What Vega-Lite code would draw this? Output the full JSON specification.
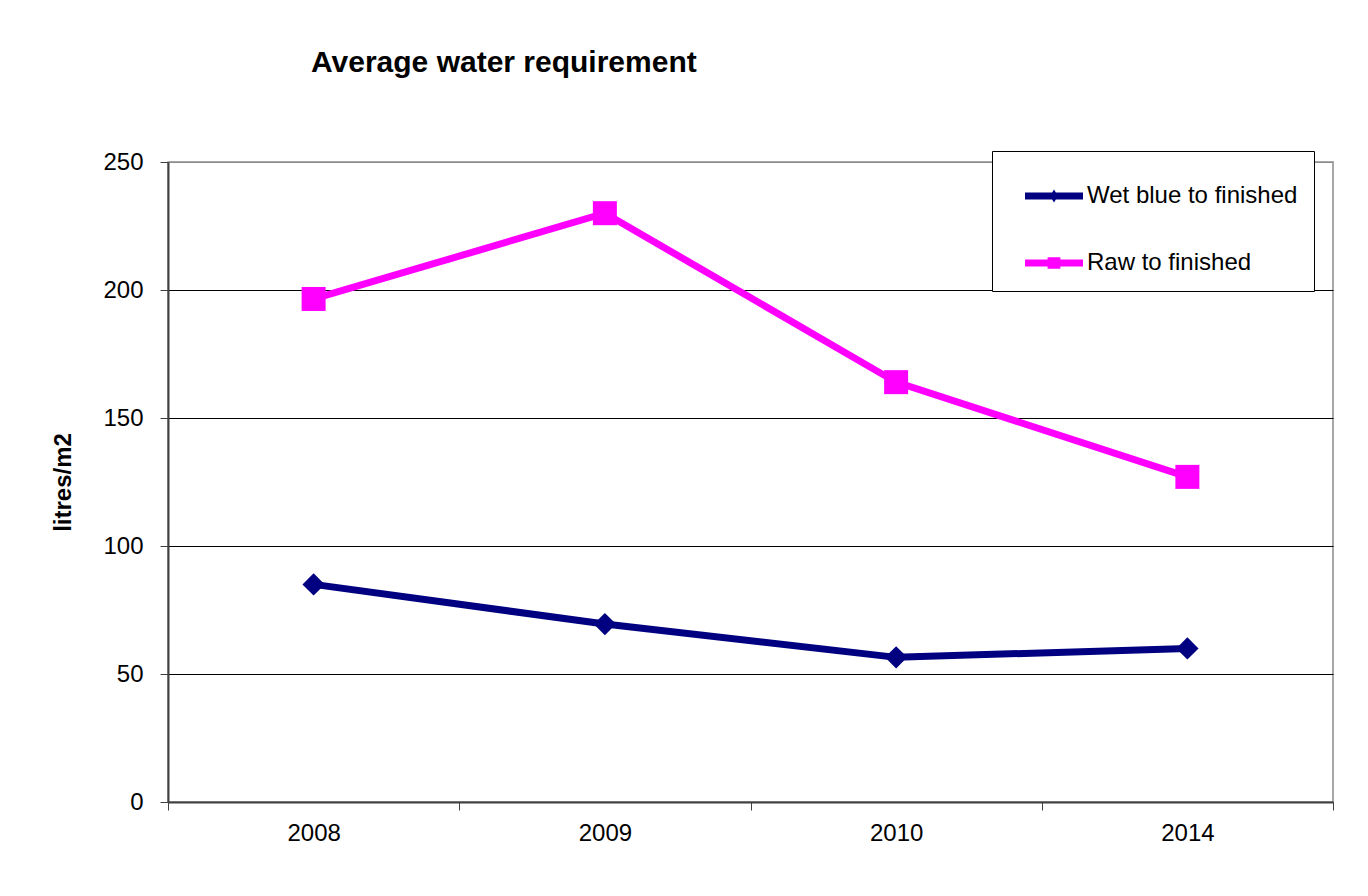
{
  "$schema": "https://vega.github.io/schema/vega-lite/v6.json",
  "autosize": {"type": "none"},
  "padding": {"left": 168, "top": 162, "right": 35, "bottom": 94},
  "width": 1165,
  "height": 640,
  "background": "white",
  "title": {
    "text": "Average water requirement",
    "anchor": "start",
    "frame": "group",
    "dx": 143,
    "offset": 48,
    "baseline": "alphabetic",
    "font": "Liberation Sans",
    "fontSize": 30,
    "fontWeight": "bold",
    "color": "black"
  },
  "config": {
    "font": "Liberation Sans",
    "view": {"stroke": "#8c8c8c", "strokeWidth": 1.5}
  },
  "data": {
    "values": [
      {"year": "2008", "series": "Wet blue to finished", "value": 85},
      {"year": "2009", "series": "Wet blue to finished", "value": 69.5},
      {"year": "2010", "series": "Wet blue to finished", "value": 56.5},
      {"year": "2014", "series": "Wet blue to finished", "value": 60},
      {"year": "2008", "series": "Raw to finished", "value": 196.5},
      {"year": "2009", "series": "Raw to finished", "value": 230},
      {"year": "2010", "series": "Raw to finished", "value": 164},
      {"year": "2014", "series": "Raw to finished", "value": 127}
    ]
  },
  "encoding": {
    "x": {
      "field": "year",
      "type": "ordinal",
      "scale": {"type": "band", "paddingInner": 0, "paddingOuter": 0},
      "axis": {
        "title": null,
        "labelAngle": 0,
        "labelFontSize": 24,
        "labelColor": "black",
        "tickBand": "extent",
        "tickSize": 8,
        "tickColor": "#404040",
        "domainColor": "#404040",
        "domainWidth": 2,
        "labelPadding": 11,
        "grid": false
      }
    },
    "y": {
      "field": "value",
      "type": "quantitative",
      "scale": {"domain": [0, 250]},
      "axis": {
        "values": [0, 50, 100, 150, 200, 250],
        "title": "litres/m2",
        "titleFontSize": 24,
        "titleFontWeight": "bold",
        "titleColor": "black",
        "titleAngle": -90,
        "titleX": -105,
        "titleY": 320,
        "titleAlign": "center",
        "titleBaseline": "middle",
        "labelFontSize": 24,
        "labelColor": "black",
        "labelPadding": 17,
        "tickSize": 8,
        "tickColor": "#404040",
        "domainColor": "#404040",
        "domainWidth": 2,
        "grid": true,
        "gridColor": {"condition": {"test": "datum.value === 250", "value": "#8c8c8c"}, "value": "black"},
        "gridWidth": 1
      }
    },
    "color": {
      "field": "series",
      "type": "nominal",
      "scale": {"domain": ["Wet blue to finished", "Raw to finished"], "range": ["#000080", "#FF00FF"]},
      "legend": {
        "orient": "none",
        "legendX": 824,
        "legendY": -11,
        "title": null,
        "direction": "vertical",
        "padding": 16,
        "strokeColor": "black",
        "fillColor": "white",
        "symbolSize": 3364,
        "symbolOffset": 17,
        "labelOffset": 4,
        "labelFontSize": 24,
        "labelLimit": 500,
        "labelColor": "black",
        "rowPadding": 26,
        "encode": {
          "symbols": {
            "update": {
              "shape": {"signal": "datum.value === 'Raw to finished' ? 'M-1,-0.12H1V0.12H-1Z M-0.22,-0.2H0.22V0.2H-0.22Z' : 'M-1,-0.12H1V0.12H-1Z M0,-0.22L0.14,0L0,0.22L-0.14,0Z'"},
              "fill": {"signal": "datum.value === 'Raw to finished' ? '#FF00FF' : '#000080'"},
              "stroke": {"value": "transparent"},
              "strokeWidth": {"value": 0},
              "opacity": {"value": 1},
              "fillOpacity": {"value": 1}
            }
          }
        }
      }
    }
  },
  "layer": [
    {"mark": {"type": "line", "strokeWidth": 7}},
    {
      "transform": [{"filter": {"field": "series", "equal": "Wet blue to finished"}}],
      "mark": {"type": "point", "filled": true, "opacity": 1, "size": 500, "shape": "diamond"}
    },
    {
      "transform": [{"filter": {"field": "series", "equal": "Raw to finished"}}],
      "mark": {"type": "point", "filled": true, "opacity": 1, "size": 576, "shape": "square"}
    }
  ]
}
